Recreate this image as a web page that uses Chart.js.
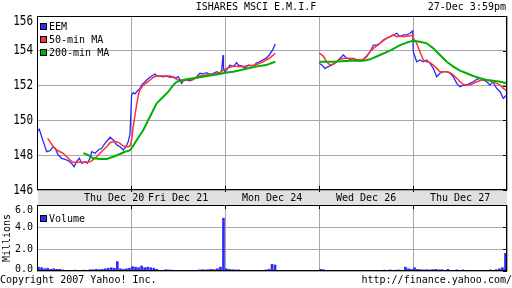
<!DOCTYPE html>
<html>
<head>
<meta charset="utf-8">
<script src="https://cdn.jsdelivr.net/npm/chart.js@4"></script>
<style>
  body { margin: 0; background: #fff; }
  #wrap { position: relative; width: 512px; height: 288px; overflow: hidden; font-family: "DejaVu Sans Mono", monospace; font-size: 10px; color: #000; }
  .txt { position: absolute; white-space: nowrap; line-height: 10px; }
  #band { position: absolute; left: 38px; top: 191px; width: 469px; height: 14px; background: #e0e0e0; }
  canvas { position: absolute; left: 0; }
  .sq { position: absolute; width: 5px; height: 5px; border: 1px solid #000; }
</style>
</head>
<body>
<div id="wrap">
  <div id="band"></div>
  <canvas id="price" width="512" height="205" style="top:0"></canvas>
  <canvas id="volume" width="512" height="93" style="top:195px"></canvas>
  <div class="txt" style="left:0;width:512px;top:2px;text-align:center">ISHARES MSCI E.M.I.F</div>
  <div class="txt" style="right:6px;top:2px">27-Dec 3:59pm</div>
  <div class="sq" style="left:40px;top:23px;background:#2a2aff"></div>
  <div class="txt" style="left:49px;top:22px">EEM</div>
  <div class="sq" style="left:40px;top:36px;background:#ff3030"></div>
  <div class="txt" style="left:49px;top:35px">50-min MA</div>
  <div class="sq" style="left:40px;top:49px;background:#00b000"></div>
  <div class="txt" style="left:49px;top:48px">200-min MA</div>
  <div class="sq" style="left:40px;top:215px;background:#2a2aff"></div>
  <div class="txt" style="left:49px;top:214px">Volume</div>
  <div class="txt" style="left:-17px;top:233px;transform:rotate(-90deg)">Millions</div>
  <div class="txt" style="left:0;top:275px">Copyright 2007 Yahoo! Inc.</div>
  <div class="txt" style="right:0;top:275px">http://finance.yahoo.com/</div>
</div>
<script>
// x values are trading days since Thu Dec 20 open (0..5)
const days = ['Thu Dec 20', 'Fri Dec 21', 'Mon Dec 24', 'Wed Dec 26', 'Thu Dec 27'];
const priceTicks = [146, 148, 150, 152, 154, 156];
const volTicks = [0, 2, 4, 6];

const eemT = [0.000,0.024,0.050,0.067,0.103,0.138,0.173,0.191,0.227,0.263,0.298,0.333,0.369,0.394,0.422,0.450,0.476,0.511,0.535,0.564,0.582,0.617,0.652,0.688,0.723,0.777,0.812,0.848,0.883,0.918,0.947,0.971,0.989,
  1.007,1.024,1.043,1.061,1.078,1.096,1.114,1.131,1.149,1.167,1.202,1.237,1.255,1.273,1.309,1.344,1.380,1.415,1.450,1.468,1.503,1.539,1.556,1.593,1.628,1.663,1.699,1.734,1.769,1.805,1.840,1.876,1.912,1.947,1.965,1.979,1.984,2.000,
  2.018,2.053,2.088,2.124,2.141,2.178,2.213,2.248,2.284,2.319,2.330,2.365,2.401,2.436,2.471,2.507,2.535,
  2.770,
  3.003,3.029,3.064,3.099,3.135,3.170,3.205,3.241,3.259,3.295,3.330,3.365,3.401,3.436,3.471,3.507,3.543,3.578,3.614,3.649,3.684,3.720,3.755,3.790,3.827,3.862,3.897,3.933,3.968,3.997,
  4.003,4.021,4.039,4.074,4.110,4.146,4.181,4.216,4.252,4.287,4.322,4.359,4.394,4.429,4.465,4.500,4.535,4.571,4.606,4.642,4.678,4.713,4.748,4.784,4.819,4.848,4.890,4.926,4.961,4.997];
const eemV = [149.35,149.49,149.06,148.78,148.20,148.26,148.49,148.40,148.01,147.82,147.76,147.68,147.53,147.34,147.63,147.82,147.53,147.63,147.53,147.82,148.20,148.11,148.30,148.40,148.68,149.03,148.87,148.59,148.49,148.30,148.49,148.78,149.22,
  151.46,151.59,151.52,151.65,151.75,151.84,152.03,152.13,152.22,152.32,152.48,152.61,152.67,152.55,152.55,152.51,152.55,152.48,152.51,152.42,152.51,152.13,152.28,152.32,152.28,152.36,152.51,152.71,152.67,152.74,152.63,152.71,152.80,152.71,152.90,153.76,152.90,152.80,
  152.90,153.18,153.09,153.32,153.18,153.13,152.99,153.18,153.13,153.18,153.28,153.37,153.47,153.57,153.76,154.05,154.39,
  null,
  153.28,153.18,152.99,153.09,153.18,153.28,153.47,153.66,153.76,153.57,153.51,153.57,153.47,153.41,153.51,153.66,153.95,154.33,154.33,154.43,154.62,154.72,154.81,154.91,155.01,154.81,154.91,154.91,155.01,155.14,
  153.95,153.66,153.37,153.47,153.37,153.47,153.28,152.99,152.51,152.71,152.80,152.80,152.71,152.51,152.13,151.94,152.03,152.03,152.13,152.22,152.36,152.42,152.32,152.22,152.03,152.22,151.84,151.65,151.27,151.46];

const ma50T = [0.114,0.138,0.173,0.210,0.245,0.280,0.316,0.351,0.386,0.439,0.493,0.535,0.571,0.599,0.635,0.670,0.705,0.741,0.777,0.812,0.848,0.883,0.918,0.971,0.989,
  1.007,1.021,1.043,1.061,1.078,1.096,1.131,1.167,1.202,1.237,1.273,1.344,1.415,1.450,1.503,1.556,1.610,1.663,1.699,1.734,1.805,1.876,1.947,1.982,
  2.018,2.088,2.160,2.231,2.330,2.401,2.471,2.535,
  2.770,
  3.003,3.046,3.082,3.117,3.152,3.188,3.223,3.277,3.330,3.383,3.436,3.471,3.507,3.543,3.578,3.614,3.649,3.684,3.720,3.755,3.790,3.827,3.862,3.897,3.933,3.968,3.997,
  4.003,4.039,4.074,4.110,4.146,4.181,4.216,4.252,4.287,4.359,4.394,4.429,4.465,4.500,4.535,4.571,4.606,4.642,4.678,4.731,4.784,4.819,4.848,4.890,4.926,4.961,4.997];
const ma50V = [148.97,148.78,148.49,148.30,148.20,148.11,147.91,147.72,147.59,147.59,147.59,147.59,147.63,147.76,147.91,148.11,148.30,148.49,148.72,148.78,148.78,148.68,148.53,148.49,148.53,
  148.87,149.56,150.31,150.94,151.46,151.75,152.03,152.17,152.32,152.48,152.55,152.55,152.55,152.48,152.32,152.28,152.32,152.36,152.48,152.55,152.61,152.67,152.74,152.90,
  152.99,153.13,153.09,153.13,153.18,153.37,153.57,153.86,
  null,
  153.86,153.70,153.37,153.18,153.24,153.37,153.51,153.57,153.57,153.51,153.47,153.51,153.70,153.95,154.14,154.28,154.43,154.58,154.72,154.81,154.91,154.81,154.85,154.81,154.85,154.85,154.91,
  154.72,154.43,153.95,153.47,153.37,153.32,153.18,152.99,152.80,152.80,152.74,152.61,152.42,152.22,152.07,152.03,152.03,152.13,152.22,152.32,152.32,152.28,152.22,152.13,152.03,151.84,151.71];

const ma200T = [0.493,0.529,0.564,0.599,0.670,0.741,0.812,0.883,0.936,0.982,
  1.007,1.061,1.131,1.202,1.237,1.273,1.344,1.397,1.450,1.486,1.521,1.593,1.663,1.734,1.805,1.876,1.947,2.000,
  2.088,2.330,2.436,2.535,
  2.770,
  3.003,3.152,3.330,3.471,3.543,3.649,3.755,3.862,3.933,3.997,
  4.074,4.146,4.216,4.287,4.359,4.429,4.500,4.571,4.642,4.713,4.784,4.855,4.926,4.997];
const ma200V = [148.11,148.05,147.95,147.82,147.78,147.78,147.91,148.07,148.20,148.26,
  148.40,148.87,149.45,150.21,150.60,150.98,151.36,151.65,152.03,152.22,152.28,152.36,152.42,152.48,152.55,152.61,152.67,152.74,
  152.80,153.09,153.18,153.37,
  null,
  153.37,153.37,153.43,153.43,153.51,153.76,154.01,154.33,154.47,154.58,
  154.52,154.43,154.14,153.76,153.37,153.09,152.86,152.71,152.55,152.42,152.32,152.28,152.22,152.13];

// volume in millions, one bar per slot (31 slots in a full session)
const volDay1 = [0.35,0.3,0.2,0.25,0.15,0.2,0.15,0.15,0.1,0.05,0.05,0.05,0.08,0.05,0.05,0.08,0.05,0.12,0.12,0.15,0.12,0.15,0.2,0.25,0.3,0.25,0.85,0.2,0.15,0.2,0.25];
const volDay2 = [0.4,0.35,0.3,0.45,0.3,0.35,0.3,0.25,0.15,0.05,0.05,0.12,0.1,0.08,0.02,0.02,0.05,0.02,0.02,0.02,0.05,0.02,0.1,0.12,0.1,0.12,0.15,0.12,0.2,0.35,4.8];
const volDay3 = [0.2,0.15,0.12,0.1,0.1,0.05,0.02,0.02,0.02,0.05,0.02,0.02,0.05,0.1,0.15,0.6,0.55];
const volDay4 = [0.15,0.12,0.03,0.05,0,0,0,0,0,0,0,0,0,0,0,0,0,0,0.05,0,0,0.08,0.05,0.1,0.05,0.08,0.1,0.05,0.35,0.2,0.15];
const volDay5 = [0.3,0.15,0.12,0.1,0.12,0.1,0.12,0.15,0.1,0.12,0.05,0.15,0.02,0.05,0.1,0.05,0.1,0.05,0.02,0.02,0.02,0.05,0.02,0.02,0.05,0.1,0.05,0.12,0.2,0.3,1.6];

const BLUE = '#2a2aff', RED = '#ff3030', GREEN = '#00b000', GRID = '#a8a8a8';
const FONT = '"DejaVu Sans Mono", monospace';

function pts(t, v) {
  return t.map((x, i) => ({ x: x, y: v[i] }));
}

function volPts() {
  let out = [];
  [volDay1, volDay2, volDay3, volDay4, volDay5].forEach((arr, d) => {
    arr.forEach((v, i) => out.push({ x: d + (i + 0.5) / 31, y: v }));
  });
  return out;
}

// black box round the plot, short black ticks, and the y labels
const framePlugin = {
  id: 'frame',
  afterDraw(chart, args, opts) {
    const { ctx, chartArea: a, scales } = chart;
    ctx.save();
    ctx.strokeStyle = '#000';
    ctx.lineWidth = 1;
    ctx.strokeRect(a.left + 0.5, a.top + 0.5, a.right - a.left - 1, a.bottom - a.top - 1);
    ctx.beginPath();
    for (let d = 1; d < days.length; d++) {
      const x = Math.round(scales.x.getPixelForValue(d)) + 0.5;
      if (opts.tickSide === 'bottom') { ctx.moveTo(x, a.bottom - 4); ctx.lineTo(x, a.bottom + 2); }
      else { ctx.moveTo(x, a.top); ctx.lineTo(x, a.top + 4); }
    }
    opts.ticks.forEach(v => {
      const y = Math.round(scales.y.getPixelForValue(v)) + 0.5;
      ctx.moveTo(a.right - 4, y); ctx.lineTo(a.right, y);
    });
    ctx.stroke();
    ctx.fillStyle = '#000';
    ctx.textAlign = 'right';
    ctx.textBaseline = 'middle';
    ctx.font = opts.font;
    opts.ticks.forEach(v => {
      let y = scales.y.getPixelForValue(v);
      y = Math.max(y, a.top + 5);
      y = Math.min(y, a.bottom + opts.bottomShift);
      ctx.save();
      ctx.translate(33, y);
      ctx.scale(1, opts.stretch);
      ctx.fillText(opts.fmt(v), 0, 0);
      ctx.restore();
    });
    ctx.restore();
  }
};

function dayAxis() {
  return {
    type: 'linear', min: 0, max: 5, offset: false,
    ticks: { display: false, stepSize: 1 },
    grid: { color: GRID, drawTicks: false, offset: false },
    border: { display: false },
    afterFit(axis) { axis.height = 0; }
  };
}

function valueAxis(min, max) {
  return {
    min: min, max: max,
    ticks: { display: false, stepSize: 2 },
    grid: { color: GRID, drawTicks: false },
    border: { display: false },
    afterFit(axis) { axis.width = 37; }
  };
}

const priceChart = new Chart(document.getElementById('price'), {
  type: 'line',
  data: {
    datasets: [
      { label: '200-min MA', data: pts(ma200T, ma200V), borderColor: GREEN, borderWidth: 2, pointRadius: 0, spanGaps: false },
      { label: '50-min MA', data: pts(ma50T, ma50V), borderColor: RED, borderWidth: 1.5, pointRadius: 0, spanGaps: false },
      { label: 'EEM', data: pts(eemT, eemV), borderColor: BLUE, borderWidth: 1.3, pointRadius: 0, spanGaps: false }
    ]
  },
  options: {
    responsive: false,
    animation: false,
    layout: { padding: { top: 16, right: 5, bottom: 15, left: 0 } },
    plugins: {
      legend: { display: false },
      tooltip: { enabled: false },
      frame: { ticks: priceTicks, fmt: v => String(v), font: '11px ' + FONT, stretch: 1.25, tickSide: 'bottom', bottomShift: 5 }
    },
    scales: { x: dayAxis(), y: valueAxis(146, 156) }
  },
  plugins: [framePlugin]
});

new Chart(document.getElementById('volume'), {
  type: 'bar',
  data: {
    datasets: [
      { label: 'Volume', data: volPts(), backgroundColor: BLUE, barThickness: 2 }
    ]
  },
  options: {
    responsive: false,
    animation: false,
    layout: { padding: { top: 10, right: 5, bottom: 17, left: 0 } },
    plugins: {
      legend: { display: false },
      tooltip: { enabled: false },
      frame: { ticks: volTicks, fmt: v => v.toFixed(1), font: '10px ' + FONT, stretch: 1, tickSide: 'top', bottomShift: -2 }
    },
    scales: { x: dayAxis(), y: valueAxis(0, 6) }
  },
  plugins: [framePlugin]
});

// day names in the grey band, placed with the price chart's x scale
const xs = priceChart.scales.x;
const wrap = document.getElementById('wrap');
days.forEach((name, i) => {
  const el = document.createElement('div');
  el.className = 'txt';
  el.textContent = name;
  el.style.top = '193px';
  const c = xs.getPixelForValue(i + 0.5);
  el.style.left = Math.round(i === 0 ? c : c - 30) + 'px';
  wrap.appendChild(el);
});
</script>
</body>
</html>
